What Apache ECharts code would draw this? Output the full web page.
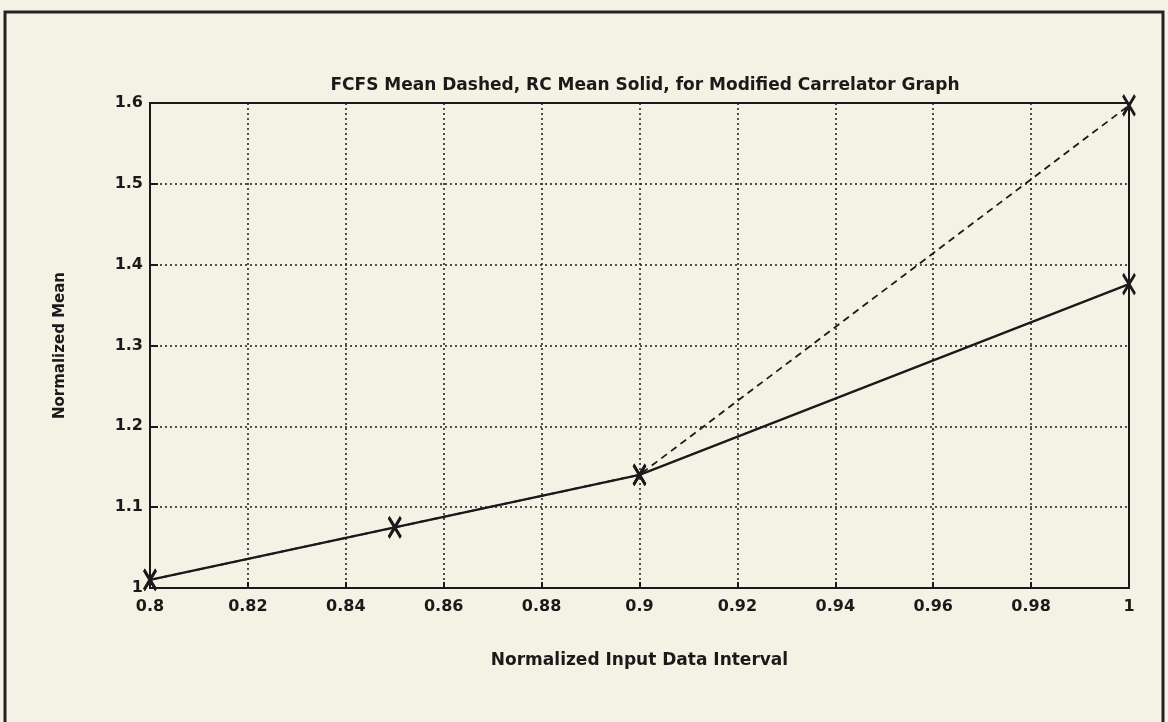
<!DOCTYPE html>
<html>
<head>
<meta charset="utf-8">
<script src="https://cdn.jsdelivr.net/npm/echarts@6/dist/echarts.min.js"></script>
<style>
html,body{margin:0;padding:0;background:#f4f2e4;}
#chart{width:1168px;height:722px;}
</style>
</head>
<body>
<div id="chart"></div>
<script>
const titleText = 'FCFS Mean Dashed, RC Mean Solid, for Modified Carrelator Graph';
const xAxisName = 'Normalized Input Data Interval';
const yAxisName = 'Normalized Mean';
const xValues = [0.8, 0.85, 0.9, 1.0];
const fcfsMean = [1.01, 1.075, 1.14, 1.597];
const rcMean = [1.01, 1.075, 1.14, 1.376];

const font = 'DejaVu Sans';
const xMark = 'path://M0,0 L10,16 M10,0 L0,16';

const chart = echarts.init(document.getElementById('chart'), null, {renderer: 'canvas'});
const pairs = (ys) => xValues.map((x, i) => [x, ys[i]]);

chart.setOption({
  backgroundColor: '#f4f2e4',
  animation: false,
  title: {
    text: titleText,
    left: 640, top: 72, textAlign: 'center',
    textStyle: {fontFamily: font, fontSize: 17, fontWeight: 'bold', color: '#1a1a1a'}
  },
  graphic: [{
    type: 'rect', silent: true,
    shape: {x: 5, y: 12, width: 1158, height: 720},
    style: {fill: 'none', stroke: '#222', lineWidth: 3}
  }],
  grid: {left: 150, top: 103, right: 39, bottom: 134, show: true, borderColor: '#1a1a1a', borderWidth: 2, backgroundColor: 'transparent'},
  xAxis: {
    type: 'value', min: 0.8, max: 1, interval: 0.02,
    name: xAxisName, nameLocation: 'middle', nameGap: 64,
    nameTextStyle: {fontFamily: font, fontSize: 17, fontWeight: 'bold', color: '#1a1a1a'},
    axisLine: {show: true, lineStyle: {color: '#1a1a1a', width: 2}},
    axisTick: {show: true, inside: true, length: 6, lineStyle: {color: '#1a1a1a', width: 2}},
    axisLabel: {fontFamily: font, fontSize: 16, fontWeight: 'bold', color: '#1a1a1a', margin: 11,
      formatter: v => String(parseFloat(v.toFixed(2)))},
    splitLine: {show: true, lineStyle: {color: '#1a1a1a', type: [2, 3], width: 1.5}}
  },
  yAxis: {
    type: 'value', min: 1, max: 1.6, interval: 0.1,
    name: yAxisName, nameLocation: 'middle', nameGap: 82, nameRotate: 90,
    nameTextStyle: {fontFamily: font, fontSize: 15, fontWeight: 'bold', color: '#1a1a1a'},
    axisLine: {show: true, lineStyle: {color: '#1a1a1a', width: 2}},
    axisTick: {show: true, inside: true, length: 8, lineStyle: {color: '#1a1a1a', width: 2}},
    axisLabel: {fontFamily: font, fontSize: 16, fontWeight: 'bold', color: '#1a1a1a', margin: 7,
      formatter: v => String(parseFloat(v.toFixed(2)))},
    splitLine: {show: true, lineStyle: {color: '#1a1a1a', type: [2, 3], width: 1.5}}
  },
  series: [
    {
      name: 'FCFS', type: 'line', data: pairs(fcfsMean),
      lineStyle: {color: '#1a1a1a', width: 1.8, type: [7, 5]},
      symbol: xMark, symbolSize: [12, 20], showSymbol: true,
      itemStyle: {color: 'none', borderColor: '#1a1a1a', borderWidth: 3}
    },
    {
      name: 'RC', type: 'line', data: pairs(rcMean),
      lineStyle: {color: '#1a1a1a', width: 2.3},
      symbol: xMark, symbolSize: [12, 20], showSymbol: true,
      itemStyle: {color: 'none', borderColor: '#1a1a1a', borderWidth: 3}
    }
  ]
});
</script>
</body>
</html>
